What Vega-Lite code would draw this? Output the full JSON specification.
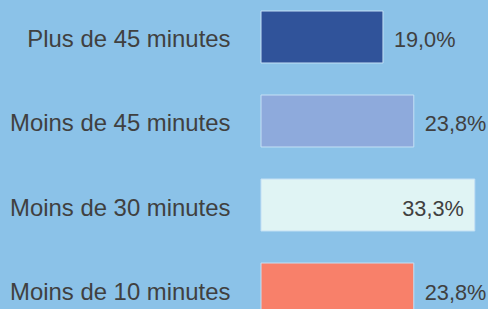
{
  "$schema": "https://vega.github.io/schema/vega-lite/v6.json",
  "autosize": {"type": "none"},
  "padding": {"left": 261, "top": 0, "right": 0, "bottom": 0},
  "width": 227,
  "height": 309,
  "background": "#8BC2E8",
  "config": {
    "view": {"stroke": null},
    "font": "Liberation Sans",
    "locale": {"number": {"decimal": ",", "thousands": " ", "grouping": [3], "currency": ["", " €"]}}
  },
  "data": {
    "values": [
      {"categorie": "Plus de 45 minutes", "part": 0.190},
      {"categorie": "Moins de 45 minutes", "part": 0.238},
      {"categorie": "Moins de 30 minutes", "part": 0.333},
      {"categorie": "Moins de 10 minutes", "part": 0.238}
    ]
  },
  "encoding": {
    "y": {
      "field": "categorie",
      "type": "nominal",
      "sort": null,
      "scale": {"range": [11, 315], "paddingInner": 0.381, "paddingOuter": 0},
      "axis": {
        "title": null,
        "ticks": false,
        "domain": false,
        "labelPadding": 31,
        "labelOffset": 3.5,
        "labelFontSize": 23.9,
        "labelColor": "#404040",
        "labelFont": "Liberation Sans",
        "labelLimit": 300
      }
    },
    "x": {
      "field": "part",
      "type": "quantitative",
      "scale": {"domain": [0, 0.3536], "nice": false},
      "axis": null
    }
  },
  "layer": [
    {
      "mark": {"type": "bar", "stroke": "#C4E0F5", "strokeWidth": 1},
      "encoding": {
        "color": {
          "field": "categorie",
          "type": "nominal",
          "sort": null,
          "scale": {
            "domain": ["Plus de 45 minutes", "Moins de 45 minutes", "Moins de 30 minutes", "Moins de 10 minutes"],
            "range": ["#30539A", "#8EAADC", "#E0F4F4", "#F8806A"]
          },
          "legend": null
        }
      }
    },
    {
      "transform": [{"filter": "datum.part < 0.3"}],
      "mark": {"type": "text", "align": "left", "baseline": "middle", "dx": 11, "dy": 3.5, "fontSize": 21.7, "color": "#404040"},
      "encoding": {"text": {"field": "part", "type": "quantitative", "format": ".1%"}}
    },
    {
      "transform": [{"filter": "datum.part >= 0.3"}],
      "mark": {"type": "text", "align": "right", "baseline": "middle", "dx": -11, "dy": 3.5, "fontSize": 21.7, "color": "#404040"},
      "encoding": {"text": {"field": "part", "type": "quantitative", "format": ".1%"}}
    }
  ]
}
